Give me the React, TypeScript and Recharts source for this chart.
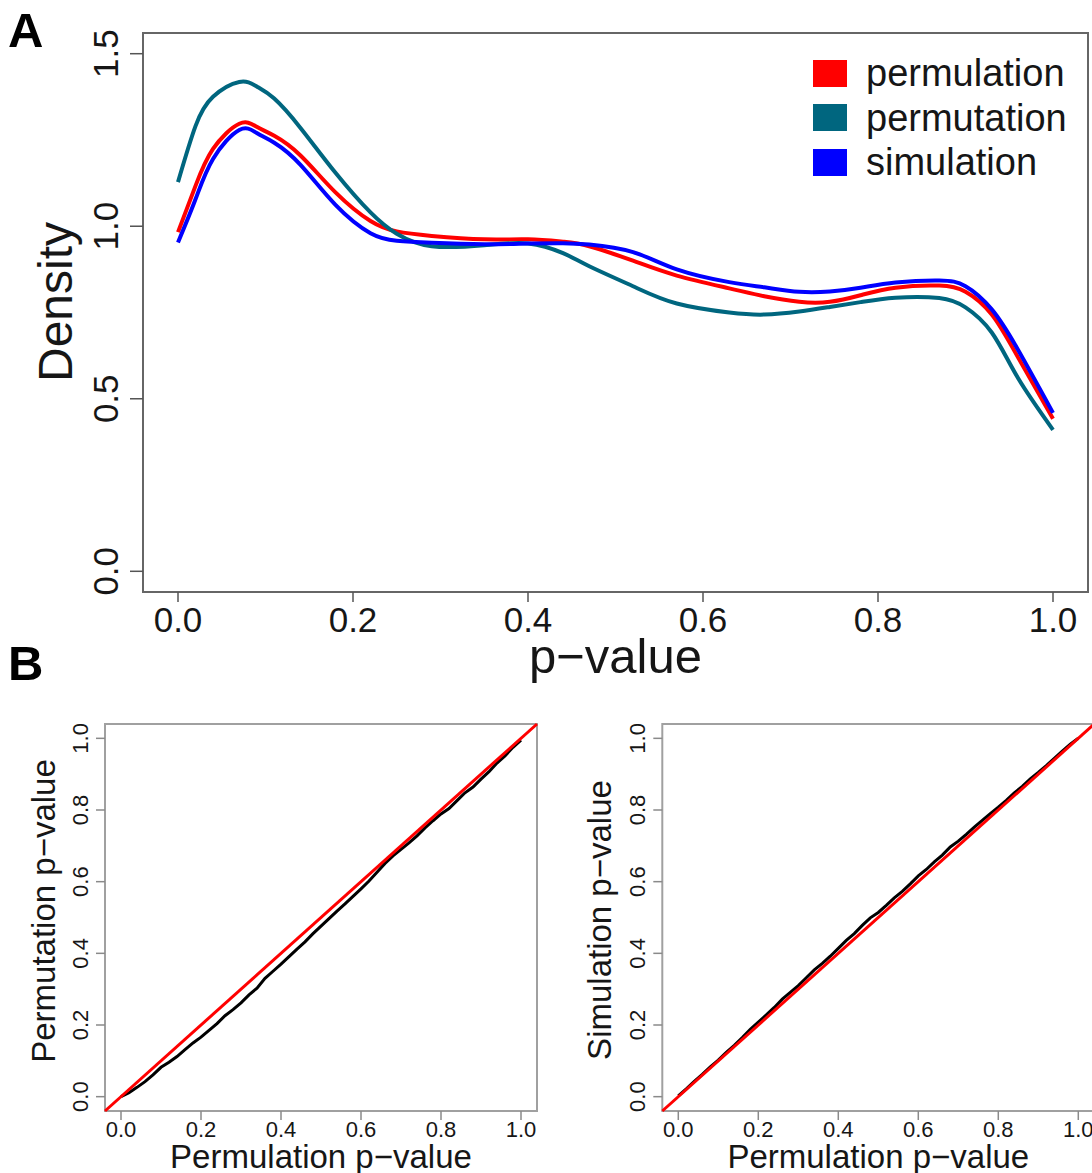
import React from "react";
import { Legend, Line, LineChart, ReferenceArea, ReferenceLine, XAxis, YAxis } from "recharts";

// Panel A: density of p-values
const pGrid = [0, 0.02, 0.04, 0.07, 0.09, 0.11, 0.14, 0.18, 0.22, 0.25, 0.29, 0.35, 0.4, 0.44, 0.47, 0.52, 0.57, 0.63, 0.67, 0.71, 0.745, 0.78, 0.82, 0.87, 0.9, 0.93, 0.96, 1.0];
const permulationDensity = [0.983, 1.117, 1.224, 1.297, 1.288, 1.262, 1.205, 1.098, 1.015, 0.985, 0.972, 0.962, 0.962, 0.955, 0.942, 0.9, 0.857, 0.82, 0.797, 0.781, 0.781, 0.8, 0.822, 0.828, 0.81, 0.744, 0.62, 0.442];
const permutationDensity = [1.128, 1.29, 1.375, 1.418, 1.405, 1.37, 1.285, 1.155, 1.04, 0.978, 0.942, 0.945, 0.95, 0.922, 0.884, 0.826, 0.776, 0.75, 0.744, 0.753, 0.766, 0.78, 0.793, 0.792, 0.765, 0.692, 0.56, 0.41];
const simulationDensity = [0.953, 1.078, 1.195, 1.279, 1.27, 1.242, 1.178, 1.062, 0.98, 0.958, 0.952, 0.948, 0.95, 0.951, 0.947, 0.925, 0.875, 0.838, 0.823, 0.81, 0.811, 0.822, 0.837, 0.843, 0.826, 0.759, 0.642, 0.459];
const densityTicksX = [0, 0.2, 0.4, 0.6, 0.8, 1];
const densityTicksY = [0, 0.5, 1, 1.5];

// Panel B: quantile comparison
const qqGrid = [0, 0.02, 0.04, 0.06, 0.08, 0.1, 0.12, 0.14, 0.16, 0.18, 0.2, 0.22, 0.24, 0.26, 0.28, 0.3, 0.32, 0.34, 0.36, 0.38, 0.4, 0.42, 0.44, 0.46, 0.48, 0.5, 0.52, 0.54, 0.56, 0.58, 0.6, 0.62, 0.64, 0.66, 0.68, 0.7, 0.72, 0.74, 0.76, 0.78, 0.8, 0.82, 0.84, 0.86, 0.88, 0.9, 0.92, 0.94, 0.96, 0.98, 1.0];
const permutationQuantiles = [0, 0.011, 0.026, 0.042, 0.061, 0.082, 0.096, 0.112, 0.131, 0.15, 0.166, 0.185, 0.204, 0.226, 0.243, 0.262, 0.284, 0.303, 0.33, 0.35, 0.37, 0.391, 0.412, 0.432, 0.455, 0.476, 0.497, 0.518, 0.538, 0.559, 0.58, 0.602, 0.626, 0.651, 0.672, 0.69, 0.708, 0.728, 0.75, 0.77, 0.789, 0.804, 0.826, 0.848, 0.864, 0.886, 0.907, 0.931, 0.951, 0.975, 0.995];
const simulationQuantiles = [0.002, 0.022, 0.043, 0.062, 0.083, 0.102, 0.124, 0.143, 0.165, 0.188, 0.208, 0.228, 0.249, 0.272, 0.291, 0.31, 0.332, 0.354, 0.372, 0.392, 0.414, 0.436, 0.455, 0.478, 0.499, 0.514, 0.534, 0.555, 0.573, 0.594, 0.616, 0.634, 0.655, 0.674, 0.697, 0.713, 0.732, 0.752, 0.771, 0.79, 0.808, 0.827, 0.848, 0.866, 0.887, 0.905, 0.924, 0.944, 0.964, 0.984, 1.0];
const qqTicks = [0, 0.2, 0.4, 0.6, 0.8, 1];

const FONT = '"Liberation Sans", Arial, Helvetica, sans-serif';
const TEXT = "#161616";

const densitySeries = [
  { key: "permulation", color: "#ff0000" },
  { key: "permutation", color: "#00667f" },
  { key: "simulation", color: "#0000ff" },
];

const densityData = pGrid.map((p, i) => ({
  p,
  permulation: permulationDensity[i],
  permutation: permutationDensity[i],
  simulation: simulationDensity[i],
}));

const permData = qqGrid.map((x, i) => ({ x, y: permutationQuantiles[i] }));
const simData = qqGrid.map((x, i) => ({ x, y: simulationQuantiles[i] }));

const fmt = (v: number) => v.toFixed(1);

const bottomTick = (fs: number) => (props: any) => (
  <text x={props.x} y={props.y} dy="0.72em" textAnchor="middle" fontSize={fs} fontFamily={FONT} fill={TEXT}>
    {fmt(props.payload.value)}
  </text>
);

const leftTick = (fs: number) => (props: any) => (
  <text
    x={props.x}
    y={props.y}
    transform={`rotate(-90 ${props.x} ${props.y})`}
    textAnchor="middle"
    fontSize={fs}
    fontFamily={FONT}
    fill={TEXT}
  >
    {fmt(props.payload.value)}
  </text>
);

const xTitle = (text: string, baseline: number, fs: number) => (props: any) => {
  const vb = props.viewBox;
  return (
    <text x={vb.x + vb.width / 2} y={baseline} textAnchor="middle" fontSize={fs} fontFamily={FONT} fill={TEXT}>
      {text}
    </text>
  );
};

const yTitle = (text: string, x: number, cy: number, fs: number) => () => (
  <text x={x} y={cy} transform={`rotate(-90 ${x} ${cy})`} textAnchor="middle" fontSize={fs} fontFamily={FONT} fill={TEXT}>
    {text}
  </text>
);

const renderLegend = (props: any) => (
  <div style={{ fontFamily: FONT, fontSize: 38, color: TEXT }}>
    {props.payload.map((e: any) => (
      <div key={e.value} style={{ display: "flex", alignItems: "center", height: 44.5 }}>
        <span style={{ display: "inline-block", width: 34, height: 27, background: e.color, marginRight: 19 }} />
        <span style={{ lineHeight: "44px" }}>{e.value}</span>
      </div>
    ))}
  </div>
);

function QQPanel({ data, left, yAxisWidth, width, rightMargin, yLabel, yLabelX, yLabelY, yTickMargin }: any) {
  return (
    <div style={{ position: "absolute", left, top: 700 }}>
      <LineChart width={width} height={473} data={data} margin={{ top: 24, right: rightMargin, bottom: 0, left: 0 }}>
        <XAxis
          dataKey="x"
          type="number"
          domain={[-0.04, 1.04]}
          ticks={qqTicks}
          height={62}
          axisLine={false}
          tickSize={9}
          tickMargin={1}
          tickLine={{ stroke: "#8a8a8a", strokeWidth: 1.5 }}
          tick={bottomTick(22)}
          interval={0}
          label={xTitle("Permulation p\u2212value", 468, 33)}
        />
        <YAxis
          type="number"
          domain={[-0.04, 1.04]}
          ticks={qqTicks}
          width={yAxisWidth}
          axisLine={false}
          tickSize={9}
          tickMargin={yTickMargin}
          tickLine={{ stroke: "#8a8a8a", strokeWidth: 1.5 }}
          tick={leftTick(22)}
          interval={0}
          label={yTitle(yLabel, yLabelX, yLabelY, 33)}
        />
        <ReferenceArea x1={-0.04} x2={1.04} y1={-0.04} y2={1.04} fill="none" stroke="#a0a0a0" strokeWidth={2} ifOverflow="visible" />
        <Line dataKey="y" type="linear" stroke="#000000" strokeWidth={3} dot={false} isAnimationActive={false} />
        <ReferenceLine
          segment={[
            { x: -0.04, y: -0.04 },
            { x: 1.04, y: 1.04 },
          ]}
          stroke="#ff0000"
          strokeWidth={3}
          ifOverflow="visible"
        />
      </LineChart>
    </div>
  );
}

export default function App() {
  return (
    <div style={{ position: "absolute", left: 0, top: 0, width: 1092, height: 1173, overflow: "hidden", background: "#fff" }}>
      <div style={{ position: "absolute", left: 0, top: 0 }}>
        <LineChart width={1092} height={700} data={densityData} margin={{ top: 33, right: 4, bottom: 0, left: 0 }}>
          <XAxis
            dataKey="p"
            type="number"
            domain={[-0.04, 1.04]}
            ticks={densityTicksX}
            height={108}
            axisLine={false}
            tickSize={10}
            tickMargin={5}
            tickLine={{ stroke: "#555", strokeWidth: 1.5 }}
            tick={bottomTick(35)}
            interval={0}
            label={xTitle("p\u2212value", 673, 49)}
          />
          <YAxis
            type="number"
            domain={[-0.06, 1.56]}
            ticks={densityTicksY}
            width={143}
            axisLine={false}
            tickSize={13}
            tickMargin={12}
            tickLine={{ stroke: "#555", strokeWidth: 1.5 }}
            tick={leftTick(35)}
            interval={0}
            label={yTitle("Density", 72, 302, 48)}
          />
          <ReferenceArea x1={-0.04} x2={1.04} y1={-0.06} y2={1.56} fill="none" stroke="#666" strokeWidth={2} ifOverflow="visible" />
          {densitySeries.map((s) => (
            <Line
              key={s.key}
              dataKey={s.key}
              name={s.key}
              type="natural"
              stroke={s.color}
              strokeWidth={4}
              dot={false}
              isAnimationActive={false}
            />
          ))}
          <Legend
            layout="vertical"
            align="center"
            verticalAlign="middle"
            content={renderLegend}
            wrapperStyle={{ left: 813, top: 51, width: 275 }}
          />
        </LineChart>
      </div>
      <QQPanel
        data={permData}
        left={0}
        yAxisWidth={105}
        width={545}
        rightMargin={8}
        yLabel={"Permutation p\u2212value"}
        yLabelX={55}
        yLabelY={211}
        yTickMargin={8}
      />
      <QQPanel
        data={simData}
        left={560}
        yAxisWidth={102.3}
        width={545}
        rightMargin={10.7}
        yLabel={"Simulation p\u2212value"}
        yLabelX={51}
        yLabelY={220}
        yTickMargin={8.3}
      />
      <svg width={1092} height={1173} style={{ position: "absolute", left: 0, top: 0, pointerEvents: "none" }}>
        <text x={8} y={47} fontSize={49} fontWeight="bold" fontFamily={FONT} fill="#000">A</text>
        <text x={8} y={680} fontSize={49} fontWeight="bold" fontFamily={FONT} fill="#000">B</text>
      </svg>
    </div>
  );
}
